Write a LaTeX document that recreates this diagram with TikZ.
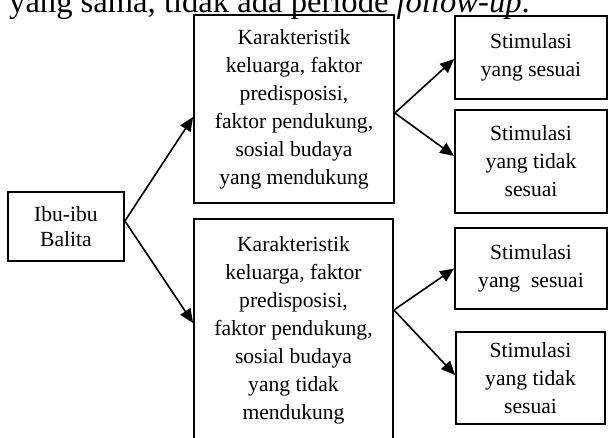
\documentclass[tikz,border=0pt]{standalone}
\usepackage{fontspec}
\setmainfont{Liberation Serif}
\usetikzlibrary{arrows.meta}
\begin{document}
\begin{tikzpicture}[x=1pt,y=-1pt,
  box/.style={draw,line width=1.8pt,inner sep=0pt,align=center,
    font=\fontsize{21.6}{28}\selectfont},
  arr/.style={line width=1.6pt,-{Triangle[length=14pt,width=12pt]}}]
\useasboundingbox (0,0) rectangle (608,437);
\clip (0,0) rectangle (608,437);
\node[anchor=base west,inner sep=0pt,font=\fontsize{32.6}{36}\selectfont] (hdr) at (9,12)
  {yang sama, tidak ada periode \textit{follow-up}.};
\node[box,minimum width=116pt,minimum height=69pt,
  font=\fontsize{21.6}{25}\selectfont] (ibu) at (66,226.5) {Ibu-ibu\\Balita};
\node[box,minimum width=200pt,minimum height=188pt] (m1) at (294,109)
  {Karakteristik\\keluarga, faktor\\predisposisi,\\faktor pendukung,\\sosial budaya\\yang mendukung};
\node[box,minimum width=199pt,minimum height=223pt] (m2) at (293.5,330.5)
  {Karakteristik\\keluarga, faktor\\predisposisi,\\faktor pendukung,\\sosial budaya\\yang tidak\\mendukung};
\node[box,minimum width=152pt,minimum height=83pt] (r1) at (531,57.5) {Stimulasi\\yang sesuai};
\node[box,minimum width=152pt,minimum height=103pt] (r2) at (531,161.5) {Stimulasi\\yang tidak\\sesuai};
\node[box,minimum width=152pt,minimum height=81pt] (r3) at (531,268.5) {Stimulasi\\yang\ \ sesuai};
\node[box,minimum width=149pt,minimum height=92pt] (r4) at (530.5,378) {Stimulasi\\yang tidak\\sesuai};
\coordinate (ibuout) at ([yshift=5.5pt]ibu.east);
\draw[arr] (ibuout) -- ([yshift=-8pt]m1.west);
\draw[arr] (ibuout) -- ([yshift=7.5pt]m2.west);
\coordinate (m1out) at ([yshift=-4pt]m1.east);
\draw[arr] (m1out) -- ([yshift=-1.5pt]r1.west);
\draw[arr] (m1out) -- ([yshift=5.5pt]r2.west);
\coordinate (m2out) at ([yshift=20.5pt]m2.east);
\draw[arr] (m2out) -- (r3.west);
\draw[arr] (m2out) -- ([yshift=3pt]r4.west);
\end{tikzpicture}
\end{document}
